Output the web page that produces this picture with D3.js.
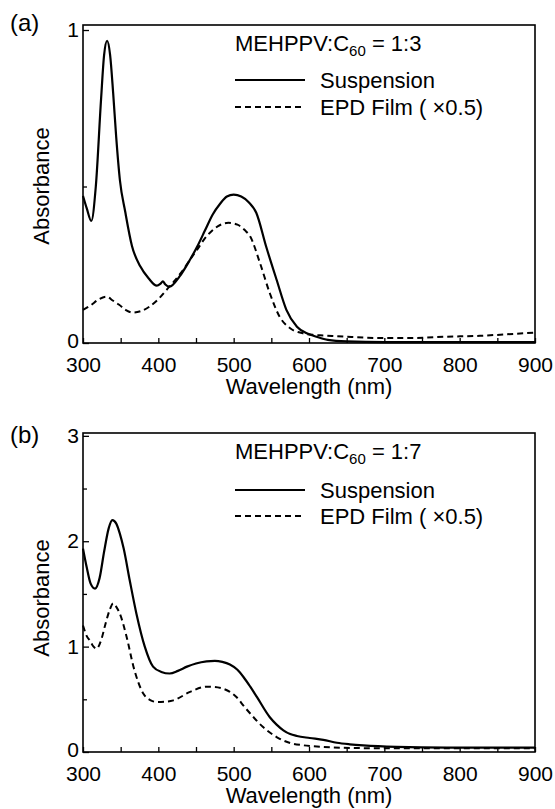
<!DOCTYPE html>
<html>
<head>
<meta charset="utf-8">
<script src="https://cdn.jsdelivr.net/npm/d3@7"></script>
<style>
  html, body { margin: 0; padding: 0; background: #fff; }
  svg { display: block; }
  text { font-family: "Liberation Sans", Arial, Helvetica, sans-serif; fill: #000; }
</style>
</head>
<body>
<svg id="chart" width="555" height="809"></svg>
<script>
// ---------- DATA ----------
const xMajorTicks = [300, 400, 500, 600, 700, 800, 900];
const xMinorTicks = [350, 450, 550, 650, 750, 850];
const yMajorTicksA = [0, 1];
const yMinorTicksA = [0.5];
const yMajorTicksB = [0, 1, 2, 3];
const yMinorTicksB = [0.5, 1.5, 2.5];

const panelLabels = ["(a)", "(b)"];
const ratioLabels = ["1:3", "1:7"];
const seriesNames = ["Suspension", "EPD Film ( \u00d70.5)"];

// Panel (a) — MEHPPV:C60 = 1:3  [wavelength nm, absorbance]
const suspensionA = [
  [300,0.47],[305,0.43],[311,0.39],[317,0.50],[324,0.78],[328,0.92],[332,0.965],[336,0.92],
  [340,0.80],[344,0.66],[349,0.52],[356,0.42],[365,0.31],[376,0.245],[387,0.207],[398,0.183],
  [403,0.19],[406,0.197],[409,0.188],[415,0.18],[428,0.212],[442,0.266],[452,0.31],[462,0.36],
  [472,0.41],[482,0.445],[491,0.468],[500,0.474],[510,0.468],[520,0.45],[530,0.416],[543,0.309],
  [557,0.202],[570,0.106],[584,0.052],[597,0.031],[610,0.02],[625,0.01],[650,0.005],[700,0.003],
  [800,0.003],[900,0.003]
];
const filmA = [
  [300,0.106],[310,0.12],[320,0.138],[331,0.148],[340,0.135],[348,0.122],[357,0.105],[366,0.097],
  [377,0.102],[388,0.116],[400,0.14],[411,0.17],[422,0.2],[433,0.234],[442,0.266],[452,0.30],
  [462,0.335],[472,0.36],[482,0.377],[493,0.384],[505,0.378],[515,0.36],[522,0.34],[535,0.255],
  [548,0.159],[561,0.084],[575,0.047],[592,0.031],[605,0.026],[620,0.024],[649,0.02],[694,0.016],
  [738,0.016],[782,0.02],[827,0.023],[871,0.029],[900,0.033]
];

// Panel (b) — MEHPPV:C60 = 1:7
const suspensionB = [
  [300,1.93],[305,1.75],[310,1.6],[316,1.55],[322,1.65],[328,1.9],[334,2.12],[339,2.2],
  [344,2.17],[349,2.07],[354,1.93],[362,1.63],[371,1.31],[382,1.0],[393,0.81],[404,0.76],
  [415,0.745],[426,0.77],[438,0.81],[450,0.84],[464,0.86],[475,0.865],[485,0.855],[495,0.83],
  [505,0.78],[513,0.712],[522,0.62],[531,0.52],[548,0.33],[557,0.26],[566,0.206],[575,0.17],
  [584,0.152],[601,0.133],[619,0.115],[637,0.088],[654,0.073],[672,0.062],[716,0.048],
  [783,0.042],[900,0.042]
];
const filmB = [
  [300,1.20],[305,1.1],[309,1.06],[314,1.0],[318,0.98],[324,1.06],[330,1.22],[336,1.36],
  [340,1.41],[344,1.38],[349,1.31],[358,1.09],[367,0.81],[380,0.555],[390,0.49],[398,0.475],
  [410,0.478],[420,0.49],[442,0.57],[464,0.62],[475,0.617],[486,0.60],[495,0.57],[504,0.52],
  [513,0.44],[522,0.365],[539,0.237],[557,0.142],[575,0.085],[592,0.064],[619,0.048],
  [646,0.04],[700,0.035],[800,0.035],[900,0.035]
];

// ---------- LAYOUT ----------
const svg = d3.select("#chart");
const FS = 22;      // titles, legend
const TFS = 21;     // tick labels
const LFS = 24;     // panel labels

const panels = [
  { top: 25, bottom: 343, yMax: 1.016, major: yMajorTicksA, minor: yMinorTicksA,
    susp: suspensionA, film: filmA, label: panelLabels[0], ratio: ratioLabels[0],
    labelY: 31, titleY: 51, leg1Y: 80, leg2Y: 107, absY: 186 },
  { top: 433, bottom: 752, yMax: 3.027, major: yMajorTicksB, minor: yMinorTicksB,
    susp: suspensionB, film: filmB, label: panelLabels[1], ratio: ratioLabels[1],
    labelY: 443, titleY: 459, leg1Y: 490, leg2Y: 516, absY: 598 }
];

const x = d3.scaleLinear().domain([300, 900]).range([83, 535]);

panels.forEach(p => {
  const y = d3.scaleLinear().domain([0, p.yMax]).range([p.bottom, p.top]);
  const g = svg.append("g");

  // frame
  g.append("rect")
    .attr("x", x.range()[0]).attr("y", p.top)
    .attr("width", x.range()[1] - x.range()[0]).attr("height", p.bottom - p.top)
    .attr("fill", "none").attr("stroke", "#000").attr("stroke-width", 1.6);

  // x axis
  const xMaj = g.append("g").attr("transform", `translate(0,${p.bottom})`)
    .call(d3.axisBottom(x).tickValues(xMajorTicks).tickSizeInner(-5).tickSizeOuter(0)
      .tickPadding(14).tickFormat(d3.format("d")));
  const xMin = g.append("g").attr("transform", `translate(0,${p.bottom})`)
    .call(d3.axisBottom(x).tickValues(xMinorTicks).tickSizeInner(-5).tickSizeOuter(0)
      .tickFormat(""));

  // y axis
  const yMaj = g.append("g").attr("transform", `translate(${x.range()[0]},0)`)
    .call(d3.axisLeft(y).tickValues(p.major).tickSizeInner(-6).tickSizeOuter(0)
      .tickPadding(4).tickFormat(d3.format("d")));
  const yMin = g.append("g").attr("transform", `translate(${x.range()[0]},0)`)
    .call(d3.axisLeft(y).tickValues(p.minor).tickSizeInner(-4).tickSizeOuter(0)
      .tickFormat(""));

  [xMaj, xMin, yMaj, yMin].forEach(a => {
    a.select(".domain").remove();
    a.selectAll("line").attr("stroke", "#000").attr("stroke-width", 1.3);
    a.selectAll("text").attr("font-size", TFS)
      .attr("font-family", "'Liberation Sans', Arial, sans-serif").attr("fill", "#000");
  });
  // nudge the y "0" label up slightly so it clears the x tick labels
  yMaj.selectAll(".tick").filter(d => d === 0).select("text").attr("dy", "0.2em");

  // axis titles
  g.append("text")
    .attr("x", (x.range()[0] + x.range()[1]) / 2).attr("y", p.bottom + 51)
    .attr("text-anchor", "middle").attr("font-size", FS)
    .text("Wavelength (nm)");
  g.append("text")
    .attr("transform", `translate(49,${p.absY}) rotate(-90)`)
    .attr("text-anchor", "middle").attr("font-size", FS)
    .text("Absorbance");

  // panel label
  g.append("text").attr("x", 10).attr("y", p.labelY).attr("font-size", LFS).text(p.label);

  // curves
  const line = d3.line().x(d => x(d[0])).y(d => y(d[1])).curve(d3.curveMonotoneX);
  g.append("path").datum(p.film).attr("d", line)
    .attr("fill", "none").attr("stroke", "#000").attr("stroke-width", 2)
    .attr("stroke-dasharray", "6,4");
  g.append("path").datum(p.susp).attr("d", line)
    .attr("fill", "none").attr("stroke", "#000").attr("stroke-width", 2.2);

  // legend
  const t = g.append("text").attr("x", 235).attr("y", p.titleY).attr("font-size", FS);
  t.append("tspan").text("MEHPPV:C");
  t.append("tspan").attr("font-size", 15).attr("dy", 5).text("60");
  t.append("tspan").attr("dy", -5).text(" = " + p.ratio);

  g.append("line").attr("x1", 235).attr("x2", 305).attr("y1", p.leg1Y).attr("y2", p.leg1Y)
    .attr("stroke", "#000").attr("stroke-width", 2.2);
  g.append("text").attr("x", 320).attr("y", p.leg1Y + 8).attr("font-size", FS).text(seriesNames[0]);
  g.append("line").attr("x1", 235).attr("x2", 305).attr("y1", p.leg2Y).attr("y2", p.leg2Y)
    .attr("stroke", "#000").attr("stroke-width", 2).attr("stroke-dasharray", "6,4");
  g.append("text").attr("x", 320).attr("y", p.leg2Y + 8).attr("font-size", FS).text(seriesNames[1]);
});
</script>
</body>
</html>
